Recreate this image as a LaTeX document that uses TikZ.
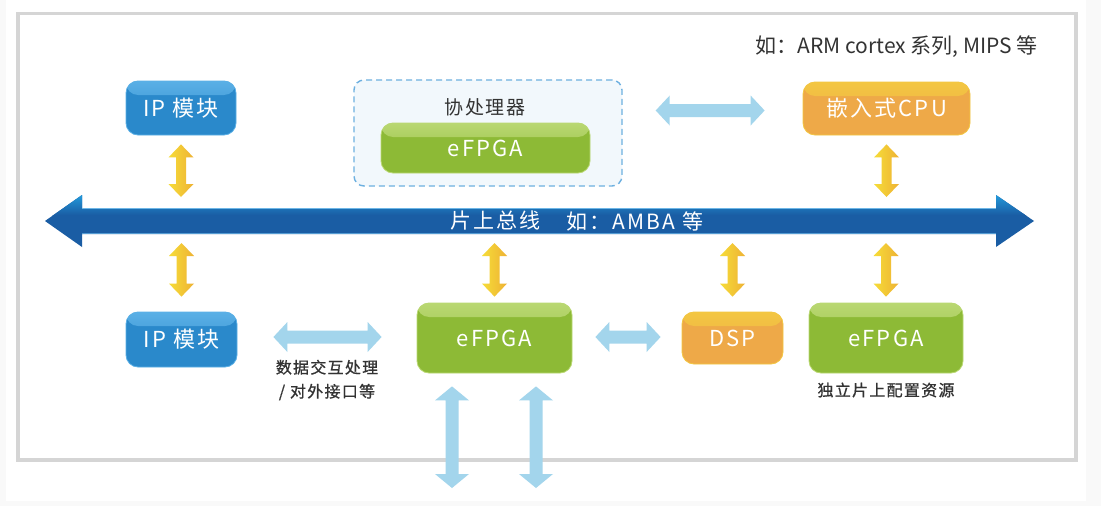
\documentclass[tikz,border=0pt]{standalone}
\usepackage{fontspec}
\setmainfont{Noto Sans CJK SC}
\newfontfamily\lsfont[LetterSpace=10]{Noto Sans CJK SC}
\newfontfamily\lsmfont[LetterSpace=8,FakeBold=0.8]{Noto Sans CJK SC}
\usetikzlibrary{calc}
\definecolor{ipblue}{HTML}{2A89CB}
\definecolor{iplight}{HTML}{5BB0E6}
\definecolor{fpgagreen}{HTML}{8DBA36}
\definecolor{fpgalight}{HTML}{BAD873}
\definecolor{orangebase}{HTML}{EEA948}
\definecolor{orangelight}{HTML}{F3C742}
\definecolor{lightblue}{HTML}{A3D5EC}
\definecolor{yelL}{HTML}{F6DC38}
\definecolor{yelR}{HTML}{EEB234}
\definecolor{busdark}{HTML}{1A5DA4}
\definecolor{buslight}{HTML}{2299DA}
\definecolor{busline}{HTML}{6DB6E6}
\definecolor{dashblue}{HTML}{6DB0E0}
\definecolor{copfill}{HTML}{F2F8FC}
\definecolor{framegray}{HTML}{D5D5D5}
\definecolor{textgray}{HTML}{333333}
\definecolor{bggray}{HTML}{F9F9F9}
% vertical fat double arrow: #1 options, #2 top point, #3 bottom point, #4 half shaft, #5 half head, #6 head length
\newcommand\vfat[6]{%
  \path[#1] let \p1=#2, \p2=#3 in
   (\x1,\y1) -- (\x1+#5,\y1-#6) -- (\x1+#4,\y1-#6) -- (\x1+#4,\y2+#6) -- (\x1+#5,\y2+#6) -- (\x1,\y2)
   -- (\x1-#5,\y2+#6) -- (\x1-#4,\y2+#6) -- (\x1-#4,\y1-#6) -- (\x1-#5,\y1-#6) -- cycle;}
% horizontal fat double arrow: #2 left point, #3 right point
\newcommand\hfat[6]{%
  \path[#1] let \p1=#2, \p2=#3 in
   (\x1,\y1) -- (\x1+#6,\y1+#5) -- (\x1+#6,\y1+#4) -- (\x2-#6,\y1+#4) -- (\x2-#6,\y1+#5) -- (\x2,\y1)
   -- (\x2-#6,\y1-#5) -- (\x2-#6,\y1-#4) -- (\x1+#6,\y1-#4) -- (\x1+#6,\y1-#5) -- cycle;}
\def\buspath{(45,-221) -- (82,-195) -- (82,-208) -- (996,-208) -- (996,-195) -- (1034,-221) -- (996,-247) -- (996,-234) -- (82,-234) -- (82,-247) -- cycle}
\begin{document}
\begin{tikzpicture}[x=1pt,y=1pt,
  bx/.style 2 args={rounded corners=12pt, fill=#1, draw=#2, line width=0.8pt, text=white,
    font=\lsfont\fontsize{22}{26}\selectfont, inner sep=0pt,
    path picture={\shade[top color=#2, bottom color=#1]
      ([yshift=1pt]path picture bounding box.north west) rectangle ([yshift=-14pt]path picture bounding box.north east);}},
  bluebox/.style={bx={ipblue}{iplight}},
  greenbox/.style={bx={fpgagreen}{fpgalight}},
  orangebox/.style={bx={orangebase}{orangelight}},
  copbox/.style={draw=dashblue, fill=copfill, line width=1.4pt, dash pattern=on 6pt off 4pt, rounded corners=10pt, inner sep=0pt},
  darklabel/.style={text=textgray, inner sep=0pt},
  bustext/.style={text=white, inner sep=0pt, font=\lsfont\fontsize{21}{24}\selectfont},
  yel/.style={left color=yelL, right color=yelR},
  lb/.style={fill=lightblue}
]
\useasboundingbox (0,0) rectangle (1101,-506);
\fill[bggray] (0,0) rectangle (1101,-506);
\fill[white] (6,0) rectangle (1086,-501);
\draw[framegray, line width=3.5pt] (18,-13.5) rectangle (1076,-460);

% bus
\fill[busdark] \buspath;
\begin{scope}
  \clip \buspath;
  \shade[top color=buslight, bottom color=busdark] (0,-195) rectangle (1101,-215);
\end{scope}
\draw[busline, line width=1.5pt] (82,-208.7) -- (996,-208.7);
\draw[busline!70!busdark, line width=1pt] (82,-233.5) -- (996,-233.5);
\coordinate (busaxis) at (539,-221);
\node[bustext] (bus) at (495.5,-221) {片上总线};
\node[bustext] (busnote) at (635,-221) {如：AMBA 等};

% top row
\node[bluebox, minimum width=110pt, minimum height=54pt] (ip1) at (181,-108) {IP 模块};
\node[copbox, minimum width=268pt, minimum height=106pt] (cop) at (488,-133) {};
\node[darklabel, font=\lsfont\fontsize{19}{22}\selectfont] (coplabel) at (485,-107) {协处理器};
\node[greenbox, minimum width=209pt, minimum height=50pt] (fpga1) at (485.5,-148) {eFPGA};
\node[orangebox, minimum width=167pt, minimum height=53pt] (cpu) at (886.5,-108.5) {嵌入式CPU};
\node[darklabel, anchor=east, font=\fontsize{21}{24}\selectfont] (note) at (1038,-47) {如：ARM cortex 系列, MIPS 等};

% bottom row
\node[bluebox, minimum width=111pt, minimum height=55pt] (ip2) at (181.5,-339.5) {IP 模块};
\node[greenbox, minimum width=155pt, minimum height=70pt] (fpga2) at (494.5,-338) {eFPGA};
\node[orangebox, minimum width=101pt, minimum height=52pt] (dsp) at (732.5,-338) {DSP};
\node[greenbox, minimum width=154pt, minimum height=70pt] (fpga3) at (886,-338) {eFPGA};
\node[darklabel, align=center, font=\lsmfont\fontsize{16}{24}\selectfont] (lab1) at (327,-380) {数据交互处理\\/ 对外接口等};
\node[darklabel, font=\lsmfont\fontsize{16}{20}\selectfont] (lab2) at (886,-390) {独立片上配置资源};
\coordinate (out1) at (452,-488);
\coordinate (out2) at (536,-488);

% yellow bus connectors
\vfat{yel}{($(ip1.south)+(0,-9)$)}{($(ip1|-busaxis)+(0,24)$)}{5pt}{12.5pt}{13pt}
\vfat{yel}{($(cpu.south)+(0,-9)$)}{($(cpu|-busaxis)+(0,24)$)}{5pt}{12.5pt}{13pt}
\vfat{yel}{($(ip2|-busaxis)+(0,-22)$)}{($(ip2.north)+(0,15)$)}{5pt}{12.5pt}{13pt}
\vfat{yel}{($(fpga2|-busaxis)+(0,-22)$)}{($(fpga2.north)+(0,6)$)}{5pt}{12.5pt}{13pt}
\vfat{yel}{($(dsp|-busaxis)+(0,-22)$)}{($(dsp.north)+(0,15)$)}{5pt}{12.5pt}{13pt}
\vfat{yel}{($(fpga3|-busaxis)+(0,-22)$)}{($(fpga3.north)+(0,6)$)}{5pt}{12.5pt}{13pt}

% light blue data connectors
\hfat{lb}{($(cop.east|-cpu.west)+(33,-2)$)}{($(cpu.west)+(-38,0)$)}{6.5pt}{15pt}{14pt}
\hfat{lb}{($(ip2.east)+(36,2.5)$)}{($(fpga2.west)+(-35,0)$)}{6.5pt}{15pt}{14pt}
\hfat{lb}{($(fpga2.east)+(23,1)$)}{($(dsp.west)+(-21,0)$)}{6.5pt}{15pt}{14pt}
\vfat{lb}{($(fpga2.south-|out1)+(0,-13)$)}{(out1)}{6.5pt}{17pt}{14pt}
\vfat{lb}{($(fpga2.south-|out2)+(0,-13)$)}{(out2)}{6.5pt}{17pt}{14pt}
\end{tikzpicture}
\end{document}
